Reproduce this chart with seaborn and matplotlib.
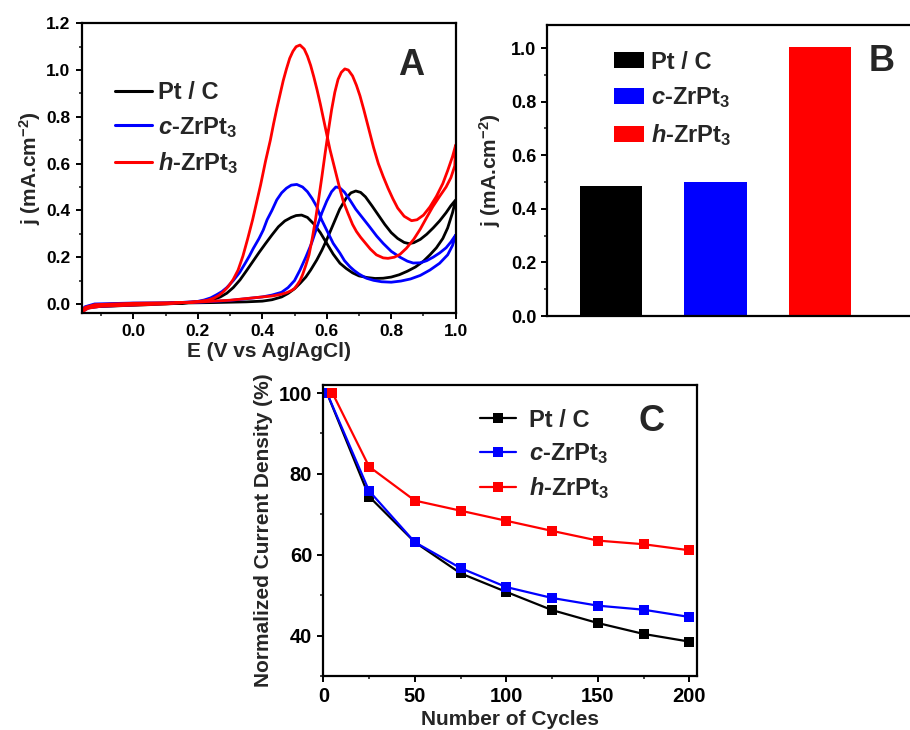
import numpy as np
import pandas as pd
import matplotlib
matplotlib.use("Agg")
import matplotlib.pyplot as plt
import seaborn as sns
from matplotlib.ticker import MultipleLocator
from matplotlib.patches import Patch

# ---------------- Panel A : cyclic voltammograms ----------------
ptc_fwd_E = [-0.16, -0.15, -0.12, -0.05, 0.05, 0.15, 0.25, 0.35, 0.40, 0.43, 0.46, 0.48, 0.50, 0.517,
             0.535, 0.55, 0.569, 0.585, 0.60, 0.62, 0.64, 0.66, 0.675, 0.69, 0.705, 0.72, 0.74, 0.76,
             0.78, 0.80, 0.82, 0.84, 0.855, 0.87, 0.89, 0.91, 0.93, 0.95, 0.97, 0.985, 1.0]
ptc_fwd_j = [-0.035, -0.015, -0.004, 0.000, 0.002, 0.004, 0.006, 0.009, 0.012, 0.018, 0.03, 0.045, 0.065,
             0.088, 0.115, 0.145, 0.188, 0.23, 0.275, 0.34, 0.405, 0.452, 0.475, 0.483, 0.477, 0.458,
             0.42, 0.38, 0.34, 0.305, 0.28, 0.263, 0.258, 0.262, 0.276, 0.298, 0.325, 0.355, 0.39, 0.42,
             0.445]
ptc_bwd_E = [1.0, 0.99, 0.975, 0.96, 0.94, 0.92, 0.90, 0.875, 0.85, 0.825, 0.80, 0.775, 0.75, 0.725,
             0.70, 0.68, 0.66, 0.641, 0.62, 0.60, 0.58, 0.56, 0.54, 0.522, 0.505, 0.49, 0.47, 0.45, 0.43,
             0.41, 0.39, 0.37, 0.35, 0.331, 0.31, 0.29, 0.27, 0.25, 0.22, 0.15, 0.05, -0.05, -0.12, -0.15,
             -0.16]
ptc_bwd_j = [0.445, 0.39, 0.325, 0.28, 0.24, 0.21, 0.183, 0.158, 0.14, 0.125, 0.115, 0.11, 0.109, 0.113,
             0.12, 0.133, 0.152, 0.174, 0.213, 0.259, 0.305, 0.342, 0.37, 0.38, 0.378, 0.37, 0.355, 0.33,
             0.295, 0.258, 0.22, 0.18, 0.14, 0.103, 0.07, 0.046, 0.03, 0.02, 0.012, 0.003, -0.003, -0.008,
             -0.012, -0.02, -0.035]

czr_fwd_E = [-0.16, -0.15, -0.12, 0.0, 0.1, 0.2, 0.3, 0.4, 0.43, 0.46, 0.48, 0.50, 0.517, 0.535, 0.553,
             0.57, 0.585, 0.60, 0.615, 0.628, 0.64, 0.655, 0.672, 0.69, 0.71, 0.73, 0.755, 0.775, 0.80,
             0.827, 0.85, 0.868, 0.89, 0.91, 0.93, 0.95, 0.97, 0.985, 1.0]
czr_fwd_j = [-0.03, -0.012, 0.0, 0.004, 0.005, 0.007, 0.015, 0.03, 0.038, 0.05, 0.07, 0.10, 0.145, 0.20,
             0.26, 0.33, 0.39, 0.44, 0.48, 0.50, 0.497, 0.478, 0.444, 0.405, 0.37, 0.335, 0.29, 0.259,
             0.225, 0.20, 0.183, 0.175, 0.176, 0.185, 0.20, 0.218, 0.24, 0.265, 0.295]
czr_bwd_E = [1.0, 0.99, 0.975, 0.95, 0.92, 0.89, 0.86, 0.83, 0.80, 0.77, 0.745, 0.723, 0.70, 0.685,
             0.672, 0.655, 0.641, 0.62, 0.60, 0.584, 0.569, 0.555, 0.54, 0.525, 0.507, 0.49, 0.475, 0.46,
             0.445, 0.43, 0.415, 0.403, 0.39, 0.372, 0.36, 0.347, 0.33, 0.31, 0.29, 0.275, 0.259, 0.24,
             0.22, 0.2, 0.1, 0.0, -0.1, -0.14, -0.16]
czr_bwd_j = [0.295, 0.25, 0.21, 0.174, 0.145, 0.122, 0.107, 0.098, 0.093, 0.095, 0.101, 0.11, 0.128,
             0.143, 0.159, 0.185, 0.217, 0.259, 0.315, 0.36, 0.416, 0.45, 0.48, 0.50, 0.511, 0.508, 0.495,
             0.475, 0.445, 0.40, 0.36, 0.316, 0.28, 0.237, 0.205, 0.174, 0.135, 0.10, 0.07, 0.053, 0.04,
             0.026, 0.017, 0.011, 0.002, -0.004, -0.01, -0.017, -0.035]

hzr_fwd_E = [-0.16, -0.15, -0.12, 0.0, 0.1, 0.2, 0.3, 0.4, 0.43, 0.455, 0.475, 0.49, 0.50, 0.51, 0.517,
             0.525, 0.535, 0.545, 0.555, 0.565, 0.575, 0.585, 0.595, 0.605, 0.615, 0.625, 0.635, 0.645,
             0.656, 0.667, 0.68, 0.692, 0.703, 0.715, 0.73, 0.745, 0.76, 0.775, 0.79, 0.805, 0.82, 0.84,
             0.863, 0.88, 0.90, 0.92, 0.94, 0.96, 0.975, 0.99, 1.0]
hzr_fwd_j = [-0.035, -0.015, -0.003, 0.003, 0.005, 0.008, 0.016, 0.03, 0.034, 0.04, 0.048, 0.057, 0.066,
             0.085, 0.10, 0.125, 0.165, 0.21, 0.28, 0.36, 0.45, 0.545, 0.645, 0.74, 0.83, 0.905, 0.96,
             0.99, 1.005, 1.0, 0.975, 0.935, 0.89, 0.83, 0.75, 0.67, 0.60, 0.545, 0.495, 0.45, 0.41,
             0.375, 0.356, 0.36, 0.38, 0.415, 0.46, 0.515, 0.57, 0.63, 0.68]
hzr_bwd_E = [1.0, 0.997, 0.985, 0.97, 0.95, 0.929, 0.91, 0.89, 0.87, 0.847, 0.827, 0.81, 0.79, 0.775,
             0.754, 0.735, 0.72, 0.705, 0.692, 0.68, 0.665, 0.651, 0.64, 0.63, 0.62, 0.61, 0.60, 0.59,
             0.58, 0.57, 0.56, 0.55, 0.54, 0.53, 0.517, 0.505, 0.495, 0.485, 0.475, 0.465, 0.455, 0.445,
             0.435, 0.425, 0.41, 0.395, 0.385, 0.37, 0.355, 0.34, 0.325, 0.31, 0.295, 0.28, 0.265, 0.25,
             0.23, 0.2, 0.1, 0.0, -0.1, -0.14, -0.16]
hzr_bwd_j = [0.68, 0.59, 0.54, 0.50, 0.46, 0.416, 0.37, 0.32, 0.277, 0.238, 0.212, 0.20, 0.195, 0.197,
             0.21, 0.235, 0.26, 0.285, 0.31, 0.34, 0.39, 0.44, 0.495, 0.55, 0.605, 0.66, 0.725, 0.79,
             0.855, 0.915, 0.97, 1.02, 1.06, 1.09, 1.107, 1.10, 1.08, 1.05, 1.005, 0.955, 0.895, 0.835,
             0.77, 0.70, 0.61, 0.51, 0.45, 0.36, 0.28, 0.205, 0.145, 0.105, 0.075, 0.053, 0.036, 0.025,
             0.016, 0.01, 0.0, -0.005, -0.01, -0.018, -0.035]

# ---------------- Panel B : peak current densities ----------------
b_names = ["Pt / C", "c-ZrPt3", "h-ZrPt3"]
b_values = [0.485, 0.50, 1.005]

# ---------------- Panel C : durability ----------------
c_cycles_ptc = [2, 25, 50, 75, 100, 125, 150, 175, 200]
c_ptc = [100, 74.4, 63.1, 55.4, 50.8, 46.3, 43.1, 40.4, 38.5]
c_cycles_czr = [2, 25, 50, 75, 100, 125, 150, 175, 200]
c_czr = [100, 75.8, 63.1, 56.7, 52.0, 49.3, 47.4, 46.4, 44.6]
c_cycles_hzr = [5, 25, 50, 75, 100, 125, 150, 175, 200]
c_hzr = [100, 81.8, 73.4, 70.9, 68.4, 65.9, 63.5, 62.6, 61.1]

labels = ["Pt / C", r"$\mathit{c}$-ZrPt$_3$", r"$\mathit{h}$-ZrPt$_3$"]
colors = ["#000000", "#0000FF", "#FF0000"]

# ---------------- style ----------------
sns.set_style("ticks")
plt.rcParams["font.family"] = ["Liberation Sans", "DejaVu Sans"]
plt.rcParams["font.weight"] = "bold"
plt.rcParams["axes.labelweight"] = "bold"
plt.rcParams["mathtext.fontset"] = "custom"
plt.rcParams["mathtext.rm"] = "Liberation Sans:bold"
plt.rcParams["mathtext.bf"] = "Liberation Sans:bold"
plt.rcParams["mathtext.it"] = "Liberation Sans:bold:italic"
plt.rcParams["axes.linewidth"] = 1.6
plt.rcParams["axes.edgecolor"] = "black"


def style_axes(ax, fs):
    ax.tick_params(which="major", direction="out", length=4.5, width=1.4, labelsize=fs, colors="black")
    ax.tick_params(which="minor", direction="out", length=2.5, width=1.2)
    for lab in ax.get_xticklabels() + ax.get_yticklabels():
        lab.set_fontweight("bold")


fig = plt.figure(figsize=(9.1, 7.3), dpi=100)

# ---- A ----
axA = fig.add_axes([0.0898, 0.5708, 0.411, 0.3973])
curves = [(ptc_fwd_E + ptc_bwd_E, ptc_fwd_j + ptc_bwd_j),
          (czr_fwd_E + czr_bwd_E, czr_fwd_j + czr_bwd_j),
          (hzr_fwd_E + hzr_bwd_E, hzr_fwd_j + hzr_bwd_j)]
for (E, j), lab, col in zip(curves, labels, colors):
    dfa = pd.DataFrame({"E": E, "j": j})
    sns.lineplot(data=dfa, x="E", y="j", sort=False, estimator=None, color=col, lw=2.0,
                 label=lab, ax=axA)
axA.set_xlim(-0.16, 1.0)
axA.xaxis.set_minor_locator(MultipleLocator(0.1))
axA.yaxis.set_minor_locator(MultipleLocator(0.1))
axA.set_xticks([0.0, 0.2, 0.4, 0.6, 0.8, 1.0])
axA.set_xticklabels(["0.0", "0.2", "0.4", "0.6", "0.8", "1.0"])
axA.set_yticks([0.0, 0.2, 0.4, 0.6, 0.8, 1.0, 1.2])
axA.set_yticklabels(["0.0", "0.2", "0.4", "0.6", "0.8", "1.0", "1.2"])
axA.set_ylim(-0.04, 1.2)
axA.set_xlabel("E (V vs Ag/AgCl)", fontsize=15, fontweight="bold", labelpad=2)
axA.set_ylabel(r"j (mA.cm$^{-2}$)", fontsize=15, fontweight="bold", labelpad=2.5)
style_axes(axA, 12.5)
axA.legend(loc="upper left", bbox_to_anchor=(0.089, 0.80), frameon=False, fontsize=17,
           handlelength=1.55, handletextpad=0.25, labelspacing=0.44, borderpad=0, borderaxespad=0)
for ln in axA.get_legend().get_lines():
    ln.set_linewidth(2.2)
axA.text(0.88, 0.853, "A", transform=axA.transAxes, fontsize=26, fontweight="bold",
         ha="center", va="center")

# ---- B ----
axB = fig.add_axes([0.6015, 0.5671, 0.3985, 0.3986])
sns.barplot(x=b_names, y=b_values, hue=b_names, palette=colors, width=0.6, saturation=1,
            legend=False, ax=axB, linewidth=0)
axB.set_xlim(-0.61, 2.86)
axB.yaxis.set_minor_locator(MultipleLocator(0.1))
axB.set_yticks([0.0, 0.2, 0.4, 0.6, 0.8, 1.0])
axB.set_yticklabels(["0.0", "0.2", "0.4", "0.6", "0.8", "1.0"])
axB.set_ylim(0, 1.086)
axB.set_xticks([])
axB.set_xlabel("")
axB.spines["right"].set_visible(False)
axB.set_ylabel(r"j (mA.cm$^{-2}$)", fontsize=15, fontweight="bold", labelpad=6)
style_axes(axB, 13)
handlesB = [Patch(facecolor=c, edgecolor="none") for c in colors]
axB.legend(handlesB, labels, loc="upper left", bbox_to_anchor=(0.184, 0.912), frameon=False,
           fontsize=17, handlelength=1.25, handleheight=0.65, handletextpad=0.3, labelspacing=0.5,
           borderpad=0, borderaxespad=0)
axB.text(0.923, 0.873, "B", transform=axB.transAxes, fontsize=26, fontweight="bold",
         ha="center", va="center")

# ---- C ----
axC = fig.add_axes([0.3553, 0.074, 0.4103, 0.3986])
for xs, ys, lab, col in zip([c_cycles_ptc, c_cycles_czr, c_cycles_hzr], [c_ptc, c_czr, c_hzr],
                            labels, colors):
    sns.lineplot(x=xs, y=ys, color=col, marker="s", markersize=6.5, markeredgewidth=0, lw=1.6,
                 label=lab, ax=axC)
axC.set_xlim(0, 204)
axC.xaxis.set_major_locator(MultipleLocator(50))
axC.xaxis.set_minor_locator(MultipleLocator(25))
axC.yaxis.set_minor_locator(MultipleLocator(10))
axC.set_yticks([40, 60, 80, 100])
axC.set_ylim(30, 102)
axC.set_xlabel("Number of Cycles", fontsize=15, fontweight="bold", labelpad=3)
axC.set_ylabel("Normalized Current Density (%)", fontsize=15, fontweight="bold", labelpad=4)
style_axes(axC, 14.5)
axC.legend(loc="upper left", bbox_to_anchor=(0.42, 0.919), frameon=False, fontsize=17,
           handlelength=1.5, handletextpad=0.55, labelspacing=0.4, borderpad=0, borderaxespad=0)
axC.text(0.88, 0.876, "C", transform=axC.transAxes, fontsize=26, fontweight="bold",
         ha="center", va="center")

fig.savefig("out.png", dpi=100)
